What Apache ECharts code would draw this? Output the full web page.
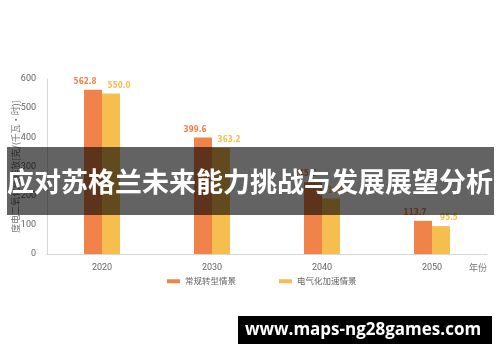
<!DOCTYPE html>
<html><head><meta charset="utf-8">
<script src="https://cdn.jsdelivr.net/npm/echarts@6/dist/echarts.min.js"></script>
<style>html,body{margin:0;padding:0;background:#fff}#c{width:500px;height:362px}</style>
</head><body><div id="c"></div>
<script>
const categories = ['2020', '2030', '2040', '2050'];
const seriesNames = ['常规转型情景', '电气化加速情景'];
const conventional = [562.8, 399.6, 245.6, 113.7];
const electrified = [550.0, 363.2, 190.0, 95.5];
const yTicks = { min: 0, max: 600, interval: 100 };
const yAxisTitle = '度电二氧化碳排放[克/(千瓦·时)]';
const xAxisTitle = '年份';
const bannerText = '应对苏格兰未来能力挑战与发展展望分析';
const siteText = 'www.maps-ng28games.com';

const colors = ['#F0834A', '#F6BE4F'];
const chart = echarts.init(document.getElementById('c'), null, {renderer: 'canvas'});
const labelStyle = (c, dx) => ({
  show: true, position: 'top', distance: 4, color: c, offset: [dx, 0],
  fontFamily: 'Liberation Sans Narrow, DejaVu Sans Condensed, sans-serif', fontWeight: 'bold', fontSize: 8,
  formatter: (p) => p.value.toFixed(1)
});
chart.setOption({
  animation: false,
  backgroundColor: '#fff',
  grid: { left: 47, right: 13, top: 79, bottom: 108, outerBoundsMode: 'none', containLabel: false },
  legend: {
    left: 167, top: 277, itemWidth: 13, itemHeight: 4, itemGap: 43, padding: 0,
    icon: 'rect',
    textStyle: { color: '#666', fontSize: 8.5, fontFamily: 'Noto Sans CJK SC' },
    data: seriesNames
  },
  xAxis: {
    type: 'category', data: categories,
    name: xAxisTitle, nameLocation: 'end', nameGap: 0,
    nameTextStyle: { align: 'right', verticalAlign: 'top', padding: [9, 0, 0, 0], color: '#777', fontSize: 9, fontFamily: 'Noto Sans CJK SC' },
    axisLine: { lineStyle: { color: '#d8d8d8' } },
    axisTick: { inside: true, length: 3, lineStyle: { color: '#d8d8d8' } },
    axisLabel: { color: '#666', fontSize: 9, margin: 9, fontFamily: 'Roboto' }
  },
  yAxis: {
    type: 'value', min: yTicks.min, max: yTicks.max, interval: yTicks.interval,
    name: yAxisTitle, nameLocation: 'middle', nameGap: 27, nameRotate: 90, nameMoveOverlap: false,
    nameTextStyle: { color: '#777', fontSize: 9, fontFamily: 'Noto Sans CJK SC' },
    axisLine: { show: true, lineStyle: { color: '#d8d8d8' } },
    axisTick: { show: false },
    splitLine: { show: false },
    axisLabel: { color: '#666', fontSize: 9, margin: 11, fontFamily: 'Roboto' }
  },
  series: [
    { name: seriesNames[0], type: 'bar', data: conventional, barWidth: 18, barGap: '0%',
      itemStyle: { color: colors[0] }, label: labelStyle(colors[0], -8) },
    { name: seriesNames[1], type: 'bar', data: electrified, barWidth: 18, barGap: '0%',
      itemStyle: { color: colors[1] }, label: labelStyle(colors[1], 8) }
  ],
  graphic: [
    { type: 'rect', z: 100, shape: { x: 7, y: 147, width: 487, height: 68 },
      style: { fill: 'rgba(0,0,0,0.61)' } },
    { type: 'text', z: 101, x: 250, y: 182,
      style: { text: bannerText, fill: '#fff', fontSize: 27, fontWeight: 'bold',
        fontFamily: 'Noto Sans CJK SC', align: 'center', verticalAlign: 'middle' } },
    { type: 'rect', z: 100, shape: { x: 238, y: 316, width: 254, height: 28 },
      style: { fill: '#000' } },
    { type: 'text', z: 101, x: 363, y: 330,
      style: { text: siteText, fill: '#fff', fontSize: 17, fontWeight: 'bold',
        fontFamily: 'Open Sans', align: 'center', verticalAlign: 'middle' } }
  ]
});
</script></body></html>
